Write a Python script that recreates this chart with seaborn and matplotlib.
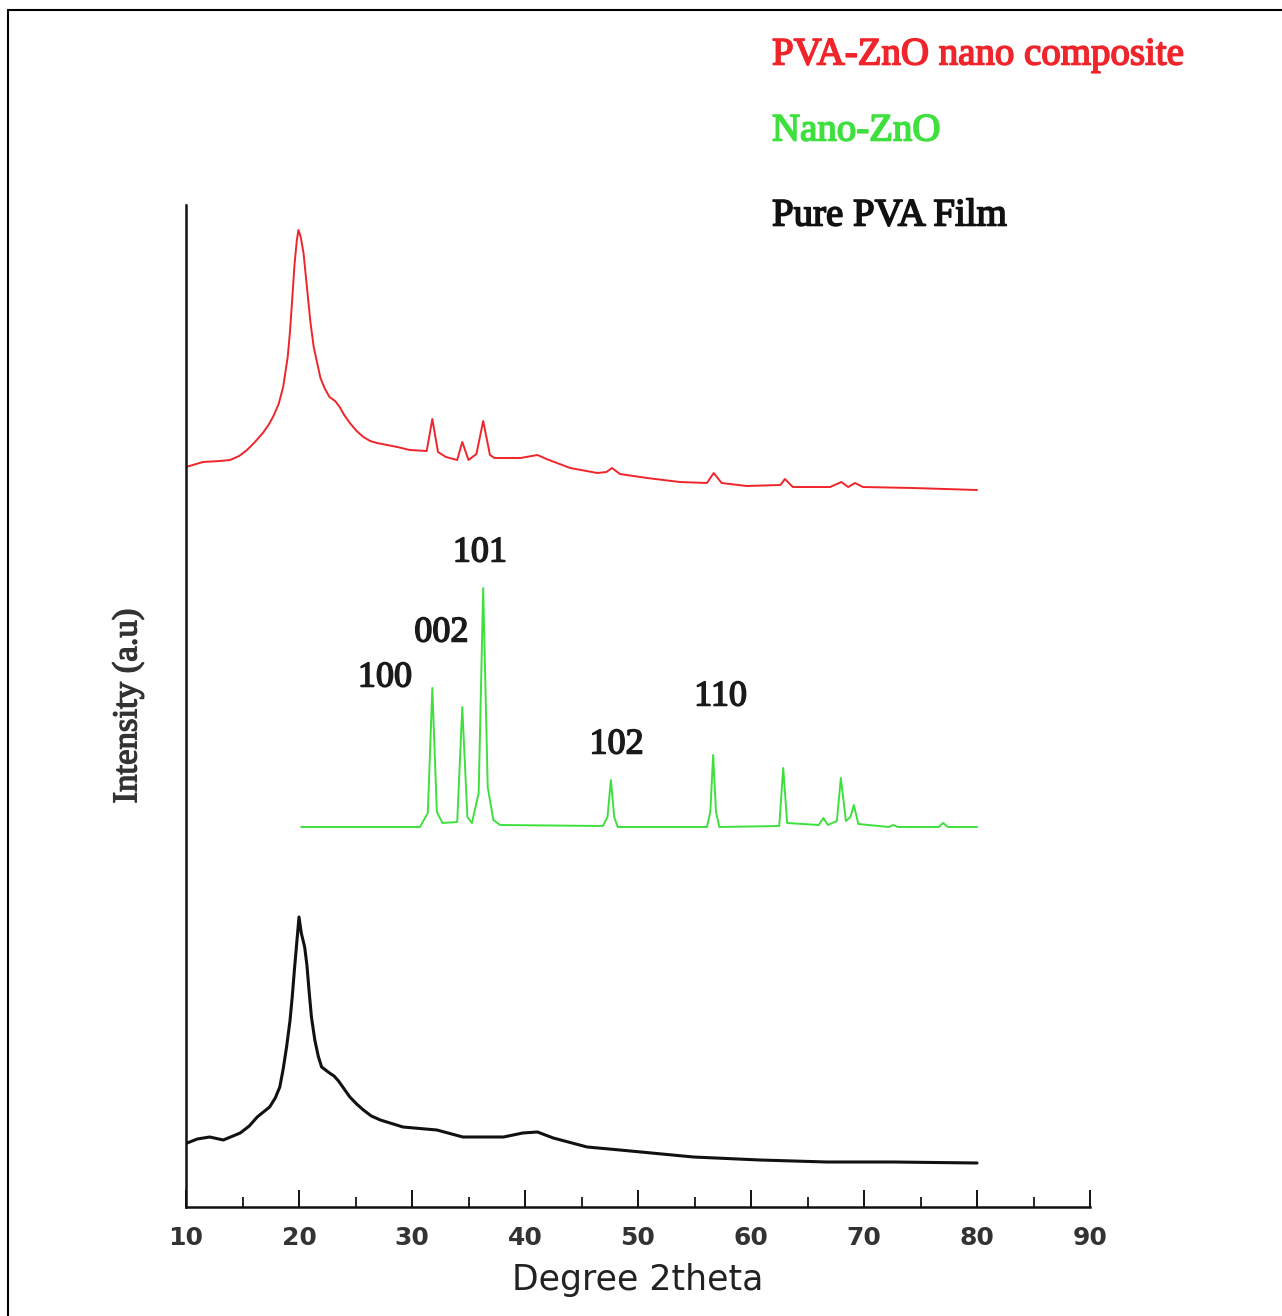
import numpy as np
import pandas as pd
import matplotlib
matplotlib.use("Agg")
import matplotlib.pyplot as plt
import matplotlib.patheffects as pe
from matplotlib.lines import Line2D
import seaborn as sns

# ---------------- data ----------------
comp_x = [10.0, 11.5, 13.0, 13.9, 14.7, 15.4, 16.1, 16.8, 17.3, 17.7, 18.2, 18.6, 19.0, 19.2, 19.4,
          19.6, 19.8, 19.95, 20.15, 20.4, 20.7, 21.0, 21.3, 21.9, 22.3, 22.7, 23.2, 23.6, 24.0,
          24.5, 25.1, 25.7, 26.3, 26.9, 28.7, 29.8, 31.3, 31.8, 32.3, 33.0, 34.0, 34.45, 35.0, 35.7,
          36.3, 36.9, 37.3, 38.1, 39.6, 41.1, 41.9, 44.0, 46.4, 47.2, 47.7, 48.4, 50.8, 53.7, 56.1,
          56.7, 57.4, 59.6, 62.6, 63.0, 63.7, 67.0, 68.0, 68.6, 69.2, 69.9, 74.3, 80.0]
comp_y = [74.0, 74.5, 74.6, 74.7, 75.1, 75.7, 76.5, 77.4, 78.2, 79.0, 80.3, 82.0, 85.0, 87.5, 90.8,
          94.2, 96.6, 97.7, 97.0, 95.4, 92.0, 88.6, 86.0, 82.9, 81.8, 81.0, 80.6, 80.0, 79.2,
          78.4, 77.6, 77.0, 76.6, 76.4, 76.0, 75.7, 75.6, 78.8, 75.5, 75.0, 74.7, 76.5, 74.7, 75.3,
          78.6, 75.2, 74.9, 74.9, 74.9, 75.2, 74.8, 73.9, 73.4, 73.5, 73.9, 73.3, 72.9, 72.5, 72.4,
          73.4, 72.4, 72.1, 72.2, 72.8, 72.0, 72.0, 72.5, 72.0, 72.4, 72.0, 71.9, 71.7]

zno_x = [20.2, 30.7, 31.4, 31.8, 32.2, 32.7, 34.0, 34.45, 34.9, 35.3, 35.9, 36.3, 36.7, 37.2, 37.8,
         46.9, 47.3, 47.6, 47.9, 48.2, 56.1, 56.4, 56.65, 56.9, 57.2, 62.5, 62.85, 63.2, 66.0, 66.4,
         66.8, 67.6, 67.95, 68.4, 68.8, 69.1, 69.5, 72.2, 72.6, 73.0, 76.6, 77.0, 77.4, 80.0]
zno_y = [38.0, 38.0, 39.4, 51.9, 39.5, 38.4, 38.5, 50.0, 39.0, 38.4, 41.4, 61.9, 42.0, 38.7, 38.2,
         38.1, 39.0, 42.7, 39.0, 38.0, 38.0, 39.5, 45.2, 39.5, 38.0, 38.1, 43.9, 38.4, 38.2, 38.9,
         38.2, 38.6, 42.9, 38.6, 39.0, 40.2, 38.3, 38.0, 38.2, 38.0, 38.0, 38.4, 38.0, 38.0]

pva_x = [10.1, 11.0, 12.1, 13.3, 14.8, 15.6, 16.3, 17.4, 17.9, 18.3, 18.6, 18.9, 19.2, 19.4, 19.6,
         19.8, 20.0, 20.2, 20.5, 20.7, 20.9, 21.1, 21.4, 21.7, 22.0, 22.7, 23.1, 23.5, 24.0, 24.5,
         25.1, 25.7, 26.4, 27.2, 29.2, 32.2, 34.5, 38.1, 39.8, 41.1, 42.5, 45.5, 48.4,
         54.9, 60.8, 66.7, 72.6, 80.0]
pva_y = [6.4, 6.8, 7.0, 6.7, 7.4, 8.1, 9.0, 10.0, 10.9, 12.0, 13.8, 16.0, 18.6, 21.0, 23.8,
         26.4, 29.0, 27.4, 26.0, 24.2, 21.5, 19.0, 16.7, 15.1, 14.0, 13.4, 13.1, 12.6, 11.8, 11.0,
         10.3, 9.7, 9.1, 8.7, 8.0, 7.7, 7.0, 7.0, 7.4, 7.5, 6.9, 6.0, 5.7,
         5.0, 4.7, 4.5, 4.5, 4.4]

peak_labels = ["100", "002", "101", "102", "110"]
peak_label_x = [27.6, 32.6, 36.0, 48.1, 57.3]
peak_label_y = [52.9, 57.4, 65.4, 46.2, 51.0]

series_names = ["PVA-ZnO nano composite", "Nano-ZnO", "Pure PVA Film"]
series_colors = ["#f0252b", "#3ee03e", "#111111"]

x_ticks = [10, 20, 30, 40, 50, 60, 70, 80, 90]
x_minor = [15, 25, 35, 45, 55, 65, 75, 85]

# ---------------- plot ----------------
sns.set_style("white")
plt.rcParams['font.family'] = ['DejaVu Sans']

W, H = 1282, 1316
fig = plt.figure(figsize=(W / 100, H / 100), dpi=100)
ax = fig.add_axes([186 / W, 1 - 1207 / H, (1090 - 186) / W, (1207 - 205) / H])

df = pd.concat([
    pd.DataFrame({"x": comp_x, "y": comp_y, "s": series_names[0]}),
    pd.DataFrame({"x": zno_x, "y": zno_y, "s": series_names[1]}),
    pd.DataFrame({"x": pva_x, "y": pva_y, "s": series_names[2]}),
])
widths = [1.4, 1.4, 2.2]
for name, col, lw in zip(series_names, series_colors, widths):
    sns.lineplot(data=df[df.s == name], x="x", y="y", color=col, lw=lw,
                 ax=ax, sort=False, estimator=None, legend=False)

ax.set_xlim(10, 90)
ax.set_ylim(0, 100.2)
ax.set_xticks(x_ticks)
ax.set_xticks(x_minor, minor=True)
ax.set_yticks([])
ax.tick_params(axis="x", which="major", direction="in", length=12, width=1.4,
               labelsize=18, pad=14, colors="#111111", bottom=True)
ax.tick_params(axis="x", which="minor", direction="in", length=7, width=1.4, bottom=True)
for lab in ax.get_xticklabels():
    lab.set_fontweight("bold")
    lab.set_color("#333333")
for sp in ["top", "right"]:
    ax.spines[sp].set_visible(False)
for sp in ["left", "bottom"]:
    ax.spines[sp].set_color("#111111")
    ax.spines[sp].set_linewidth(1.8)


def thick(color, w=1.0):
    return [pe.withStroke(linewidth=w, foreground=color)]


ax.set_xlabel("Degree 2theta", fontsize=25, labelpad=9, color="#222222")
ylab = ax.set_ylabel("Intensity (a.u)", fontsize=25, family=["Liberation Serif"],
                     labelpad=30, color="#333333")
ylab.set_path_effects(thick("#333333", 1.0))

for lab, lx, ly in zip(peak_labels, peak_label_x, peak_label_y):
    ax.text(lx, ly, lab, ha="center", va="center", fontsize=26,
            family=["Liberation Serif"], color="#1a1a1a",
            path_effects=thick("#1a1a1a", 1.1))

legend_y = [55, 131, 216]
for name, col, py in zip(series_names, series_colors, legend_y):
    fig.text(772 / W, 1 - py / H, name, ha="left", va="center", fontsize=28,
             family=["Liberation Serif"], color=col,
             path_effects=thick(col, 1.2))

# outer frame (top and left edges visible)
fig.add_artist(Line2D([8 / W, 1.0], [1 - 10 / H, 1 - 10 / H], color="black", lw=1.5,
                      transform=fig.transFigure))
fig.add_artist(Line2D([8 / W, 8 / W], [1 - 10 / H, 0.0], color="black", lw=1.5,
                      transform=fig.transFigure))

fig.savefig("out.png", dpi=100)
